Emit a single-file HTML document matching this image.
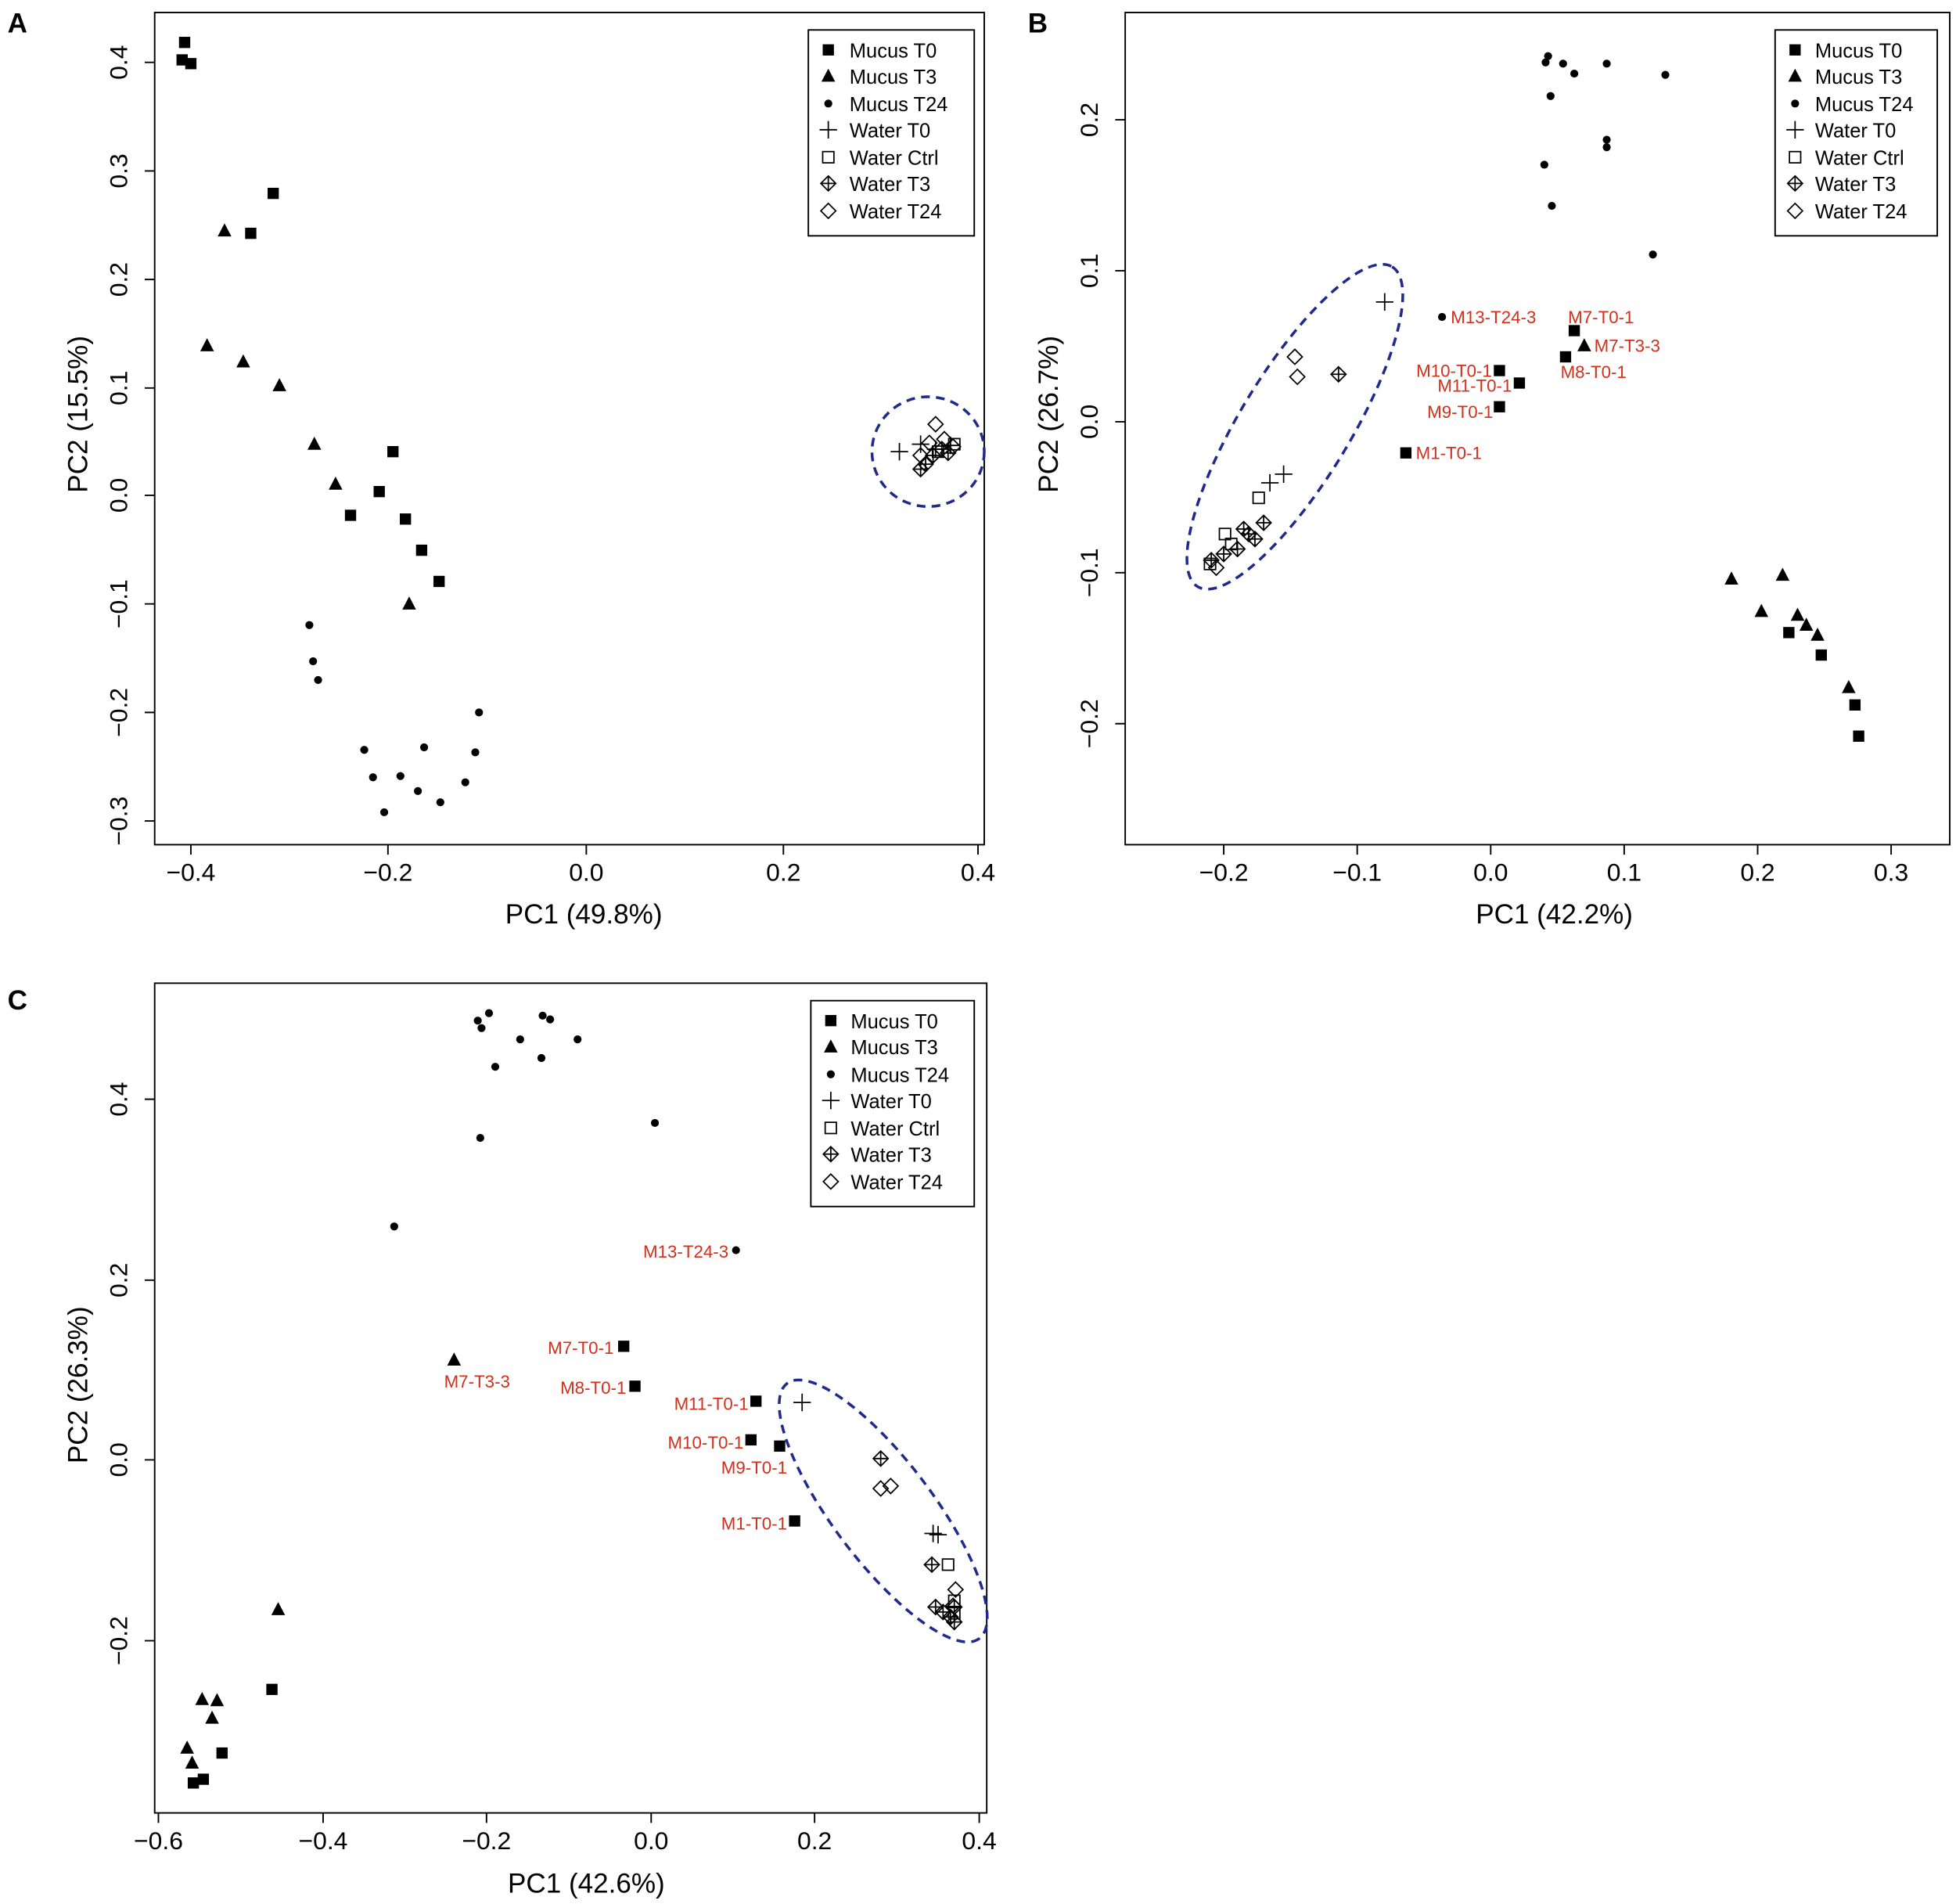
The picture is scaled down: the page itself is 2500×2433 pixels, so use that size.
<!DOCTYPE html>
<html><head><meta charset="utf-8"><style>
html,body{margin:0;padding:0;background:#fff;}
svg{display:block;}
text{font-family:"Liberation Sans",sans-serif;fill:#000;}
.t{font-size:20px;}
.ax{font-size:22px;}
.lg{font-size:16px;}
.r, .r text{font-size:14px;fill:#d0301c;}
.pl{font-size:22px;font-weight:bold;}
</style></head><body>
<svg width="2500" height="2433" viewBox="0 0 1568 1526" preserveAspectRatio="none" xmlns="http://www.w3.org/2000/svg">
<defs>
<rect id="sq" x="-4.5" y="-4.5" width="9" height="9" fill="#000"/>
<polygon id="tr" points="0,-6 5.5,4.5 -5.5,4.5" fill="#000"/>
<circle id="dt" r="3.2" fill="#000"/>
<path id="pl" d="M-7,0H7M0,-7V7" stroke="#000" stroke-width="1.1" fill="none"/>
<rect id="os" x="-4.5" y="-4.5" width="9" height="9" fill="none" stroke="#000" stroke-width="1.1"/>
<g id="dp"><polygon points="0,-6 6,0 0,6 -6,0" fill="none" stroke="#000" stroke-width="1.1"/><path d="M-6,0H6M0,-6V6" stroke="#000" stroke-width="1.1"/></g>
<polygon id="dm" points="0,-6 6,0 0,6 -6,0" fill="none" stroke="#000" stroke-width="1.1"/>
</defs>
<g fill="none" stroke="#000" stroke-width="1.2">
<rect x="124" y="10" width="665" height="667"/>
<rect x="902" y="10" width="661" height="667"/>
<rect x="124" y="788" width="667" height="665"/>
<path d="M153,677v8M311,677v8M470,677v8M628,677v8M784,677v8"/>
<path d="M124,50h-8M124,137h-8M124,224h-8M124,311h-8M124,397h-8M124,484h-8M124,571h-8M124,658h-8"/>
<path d="M981,677v8M1088,677v8M1195,677v8M1302,677v8M1409,677v8M1516,677v8"/>
<path d="M902,96h-8M902,217h-8M902,338h-8M902,459h-8M902,580h-8"/>
<path d="M127,1453v8M259,1453v8M390,1453v8M522,1453v8M653,1453v8M785,1453v8"/>
<path d="M124,881h-8M124,1026h-8M124,1170h-8M124,1315h-8"/>
<rect x="648" y="24" width="133" height="165"/>
<rect x="1423" y="24" width="130" height="165"/>
<rect x="650" y="802" width="131" height="165"/>
</g>
<g fill="none" stroke="#1f2a8c" stroke-width="2.2" stroke-dasharray="7,5">
<ellipse cx="744" cy="362" rx="45" ry="44"/>
<ellipse cx="1038" cy="342" rx="150" ry="44" transform="rotate(-58.7 1038 342)"/>
<ellipse cx="708" cy="1211" rx="128" ry="40" transform="rotate(53 708 1211)"/>
</g>
<g class="t" text-anchor="middle">
<text x="153" y="706">−0.4</text><text x="311" y="706">−0.2</text><text x="470" y="706">0.0</text><text x="628" y="706">0.2</text><text x="784" y="706">0.4</text>
<text x="981" y="706">−0.2</text><text x="1088" y="706">−0.1</text><text x="1195" y="706">0.0</text><text x="1302" y="706">0.1</text><text x="1409" y="706">0.2</text><text x="1516" y="706">0.3</text>
<text x="127" y="1482">−0.6</text><text x="259" y="1482">−0.4</text><text x="390" y="1482">−0.2</text><text x="522" y="1482">0.0</text><text x="653" y="1482">0.2</text><text x="785" y="1482">0.4</text>
<text transform="translate(102,50) rotate(-90)">0.4</text>
<text transform="translate(102,137) rotate(-90)">0.3</text>
<text transform="translate(102,224) rotate(-90)">0.2</text>
<text transform="translate(102,311) rotate(-90)">0.1</text>
<text transform="translate(102,397) rotate(-90)">0.0</text>
<text transform="translate(102,484) rotate(-90)">−0.1</text>
<text transform="translate(102,571) rotate(-90)">−0.2</text>
<text transform="translate(102,658) rotate(-90)">−0.3</text>
<text transform="translate(880,96) rotate(-90)">0.2</text>
<text transform="translate(880,217) rotate(-90)">0.1</text>
<text transform="translate(880,338) rotate(-90)">0.0</text>
<text transform="translate(880,459) rotate(-90)">−0.1</text>
<text transform="translate(880,580) rotate(-90)">−0.2</text>
<text transform="translate(102,881) rotate(-90)">0.4</text>
<text transform="translate(102,1026) rotate(-90)">0.2</text>
<text transform="translate(102,1170) rotate(-90)">0.0</text>
<text transform="translate(102,1315) rotate(-90)">−0.2</text>
</g>
<g class="ax" text-anchor="middle">
<text x="468" y="740">PC1 (49.8%)</text>
<text x="1246" y="740">PC1 (42.2%)</text>
<text x="470" y="1517">PC1 (42.6%)</text>
<text transform="translate(70,332) rotate(-90)">PC2 (15.5%)</text>
<text transform="translate(848,332) rotate(-90)">PC2 (26.7%)</text>
<text transform="translate(70,1110) rotate(-90)">PC2 (26.3%)</text>
</g>
<text class="pl" x="6" y="26">A</text>
<text class="pl" x="824" y="26">B</text>
<text class="pl" x="6" y="809">C</text>
<g><use href="#sq" x="664" y="40"/><use href="#tr" x="664" y="61"/><use href="#dt" x="664" y="83"/><use href="#pl" x="664" y="104"/><use href="#os" x="664" y="126"/><use href="#dp" x="664" y="147"/><use href="#dm" x="664" y="169"/></g>
<g class="lg"><text x="681" y="46">Mucus T0</text><text x="681" y="67">Mucus T3</text><text x="681" y="89">Mucus T24</text><text x="681" y="110">Water T0</text><text x="681" y="132">Water Ctrl</text><text x="681" y="153">Water T3</text><text x="681" y="175">Water T24</text></g>
<g><use href="#sq" x="1439" y="40"/><use href="#tr" x="1439" y="61"/><use href="#dt" x="1439" y="83"/><use href="#pl" x="1439" y="104"/><use href="#os" x="1439" y="126"/><use href="#dp" x="1439" y="147"/><use href="#dm" x="1439" y="169"/></g>
<g class="lg"><text x="1455" y="46">Mucus T0</text><text x="1455" y="67">Mucus T3</text><text x="1455" y="89">Mucus T24</text><text x="1455" y="110">Water T0</text><text x="1455" y="132">Water Ctrl</text><text x="1455" y="153">Water T3</text><text x="1455" y="175">Water T24</text></g>
<g><use href="#sq" x="666" y="818"/><use href="#tr" x="666" y="839"/><use href="#dt" x="666" y="861"/><use href="#pl" x="666" y="882"/><use href="#os" x="666" y="904"/><use href="#dp" x="666" y="925"/><use href="#dm" x="666" y="947"/></g>
<g class="lg"><text x="682" y="824">Mucus T0</text><text x="682" y="845">Mucus T3</text><text x="682" y="867">Mucus T24</text><text x="682" y="888">Water T0</text><text x="682" y="910">Water Ctrl</text><text x="682" y="931">Water T3</text><text x="682" y="953">Water T24</text></g>
<g>
<use href="#sq" x="148" y="34"/><use href="#sq" x="146" y="48"/><use href="#sq" x="153" y="51"/><use href="#sq" x="219" y="155"/><use href="#sq" x="201" y="187"/><use href="#sq" x="315" y="362"/><use href="#sq" x="304" y="394"/><use href="#sq" x="281" y="413"/><use href="#sq" x="325" y="416"/><use href="#sq" x="338" y="441"/><use href="#sq" x="352" y="466"/>
<use href="#tr" x="180" y="185"/><use href="#tr" x="166" y="277"/><use href="#tr" x="195" y="290"/><use href="#tr" x="224" y="309"/><use href="#tr" x="252" y="356"/><use href="#tr" x="269" y="388"/><use href="#tr" x="328" y="484"/>
<use href="#dt" x="248" y="501"/><use href="#dt" x="251" y="530"/><use href="#dt" x="255" y="545"/><use href="#dt" x="384" y="571"/><use href="#dt" x="292" y="601"/><use href="#dt" x="340" y="599"/><use href="#dt" x="381" y="603"/><use href="#dt" x="299" y="623"/><use href="#dt" x="321" y="622"/><use href="#dt" x="335" y="634"/><use href="#dt" x="373" y="627"/><use href="#dt" x="308" y="651"/><use href="#dt" x="353" y="643"/>
<use href="#pl" x="721" y="362"/><use href="#pl" x="738" y="356"/><use href="#pl" x="762" y="357"/><use href="#pl" x="750" y="360"/>
<use href="#dm" x="750" y="340"/><use href="#dm" x="757" y="352"/><use href="#dm" x="764" y="358"/><use href="#dm" x="745" y="355"/><use href="#dm" x="738" y="365"/>
<use href="#dp" x="738" y="376"/><use href="#dp" x="742" y="372"/><use href="#dp" x="748" y="365"/><use href="#dp" x="755" y="360"/><use href="#dp" x="760" y="363"/>
<use href="#os" x="765" y="356"/><use href="#os" x="752" y="362"/>
</g>
<g>
<use href="#dt" x="1241" y="45"/><use href="#dt" x="1239" y="50"/><use href="#dt" x="1253" y="51"/><use href="#dt" x="1262" y="59"/><use href="#dt" x="1288" y="51"/><use href="#dt" x="1335" y="60"/><use href="#dt" x="1243" y="77"/><use href="#dt" x="1288" y="112"/><use href="#dt" x="1288" y="118"/><use href="#dt" x="1238" y="132"/><use href="#dt" x="1244" y="165"/><use href="#dt" x="1325" y="204"/><use href="#dt" x="1156" y="254"/>
<use href="#sq" x="1262" y="265"/><use href="#sq" x="1255" y="286"/><use href="#sq" x="1202" y="297"/><use href="#sq" x="1218" y="307"/><use href="#sq" x="1202" y="326"/><use href="#sq" x="1127" y="363"/><use href="#sq" x="1434" y="507"/><use href="#sq" x="1460" y="525"/><use href="#sq" x="1487" y="565"/><use href="#sq" x="1490" y="590"/>
<use href="#tr" x="1270" y="277"/><use href="#tr" x="1388" y="464"/><use href="#tr" x="1429" y="461"/><use href="#tr" x="1412" y="490"/><use href="#tr" x="1441" y="493"/><use href="#tr" x="1448" y="501"/><use href="#tr" x="1457" y="509"/><use href="#tr" x="1482" y="551"/>
<use href="#pl" x="1110" y="242"/><use href="#pl" x="1029" y="380"/><use href="#pl" x="1018" y="387"/>
<use href="#dm" x="1038" y="286"/><use href="#dm" x="1040" y="302"/><use href="#dm" x="975" y="455"/>
<use href="#dp" x="1073" y="300"/><use href="#dp" x="1013" y="419"/><use href="#dp" x="997" y="424"/><use href="#dp" x="1001" y="428"/><use href="#dp" x="1006" y="432"/><use href="#dp" x="992" y="440"/><use href="#dp" x="981" y="444"/><use href="#dp" x="971" y="449"/>
<use href="#os" x="1009" y="399"/><use href="#os" x="982" y="428"/><use href="#os" x="987" y="436"/><use href="#os" x="970" y="452"/>
</g>
<g class="r">
<text x="1163" y="259">M13-T24-3</text><text x="1257" y="259">M7-T0-1</text><text x="1278" y="282">M7-T3-3</text><text x="1251" y="303">M8-T0-1</text>
<text x="1196" y="302" text-anchor="end">M10-T0-1</text><text x="1212" y="314" text-anchor="end">M11-T0-1</text><text x="1197" y="335" text-anchor="end">M9-T0-1</text><text x="1135" y="368">M1-T0-1</text>
</g>
<g>
<use href="#dt" x="392" y="812"/><use href="#dt" x="383" y="818"/><use href="#dt" x="386" y="824"/><use href="#dt" x="435" y="814"/><use href="#dt" x="441" y="817"/><use href="#dt" x="417" y="833"/><use href="#dt" x="463" y="833"/><use href="#dt" x="434" y="848"/><use href="#dt" x="397" y="855"/><use href="#dt" x="525" y="900"/><use href="#dt" x="385" y="912"/><use href="#dt" x="316" y="983"/><use href="#dt" x="590" y="1002"/>
<use href="#sq" x="500" y="1079"/><use href="#sq" x="509" y="1111"/><use href="#sq" x="606" y="1123"/><use href="#sq" x="602" y="1154"/><use href="#sq" x="625" y="1159"/><use href="#sq" x="637" y="1219"/><use href="#sq" x="218" y="1354"/><use href="#sq" x="178" y="1405"/><use href="#sq" x="163" y="1426"/><use href="#sq" x="155" y="1429"/>
<use href="#tr" x="364" y="1090"/><use href="#tr" x="223" y="1290"/><use href="#tr" x="162" y="1362"/><use href="#tr" x="174" y="1363"/><use href="#tr" x="170" y="1377"/><use href="#tr" x="150" y="1401"/><use href="#tr" x="154" y="1413"/>
<use href="#pl" x="643" y="1124"/><use href="#pl" x="748" y="1229"/><use href="#pl" x="752" y="1230"/>
<use href="#dm" x="706" y="1193"/><use href="#dm" x="714" y="1191"/><use href="#dm" x="766" y="1274"/><use href="#dm" x="764" y="1287"/>
<use href="#dp" x="706" y="1169"/><use href="#dp" x="747" y="1254"/><use href="#dp" x="750" y="1288"/><use href="#dp" x="756" y="1292"/><use href="#dp" x="762" y="1296"/><use href="#dp" x="765" y="1300"/><use href="#dp" x="765" y="1288"/>
<use href="#os" x="760" y="1254"/><use href="#os" x="765" y="1283"/><use href="#os" x="765" y="1293"/>
</g>
<g class="r" text-anchor="end">
<text x="584" y="1008">M13-T24-3</text><text x="492" y="1085">M7-T0-1</text><text x="356" y="1112" text-anchor="start">M7-T3-3</text><text x="502" y="1117">M8-T0-1</text>
<text x="600" y="1130">M11-T0-1</text><text x="596" y="1161">M10-T0-1</text><text x="631" y="1181">M9-T0-1</text><text x="631" y="1226">M1-T0-1</text>
</g>
</svg>
</body></html>
